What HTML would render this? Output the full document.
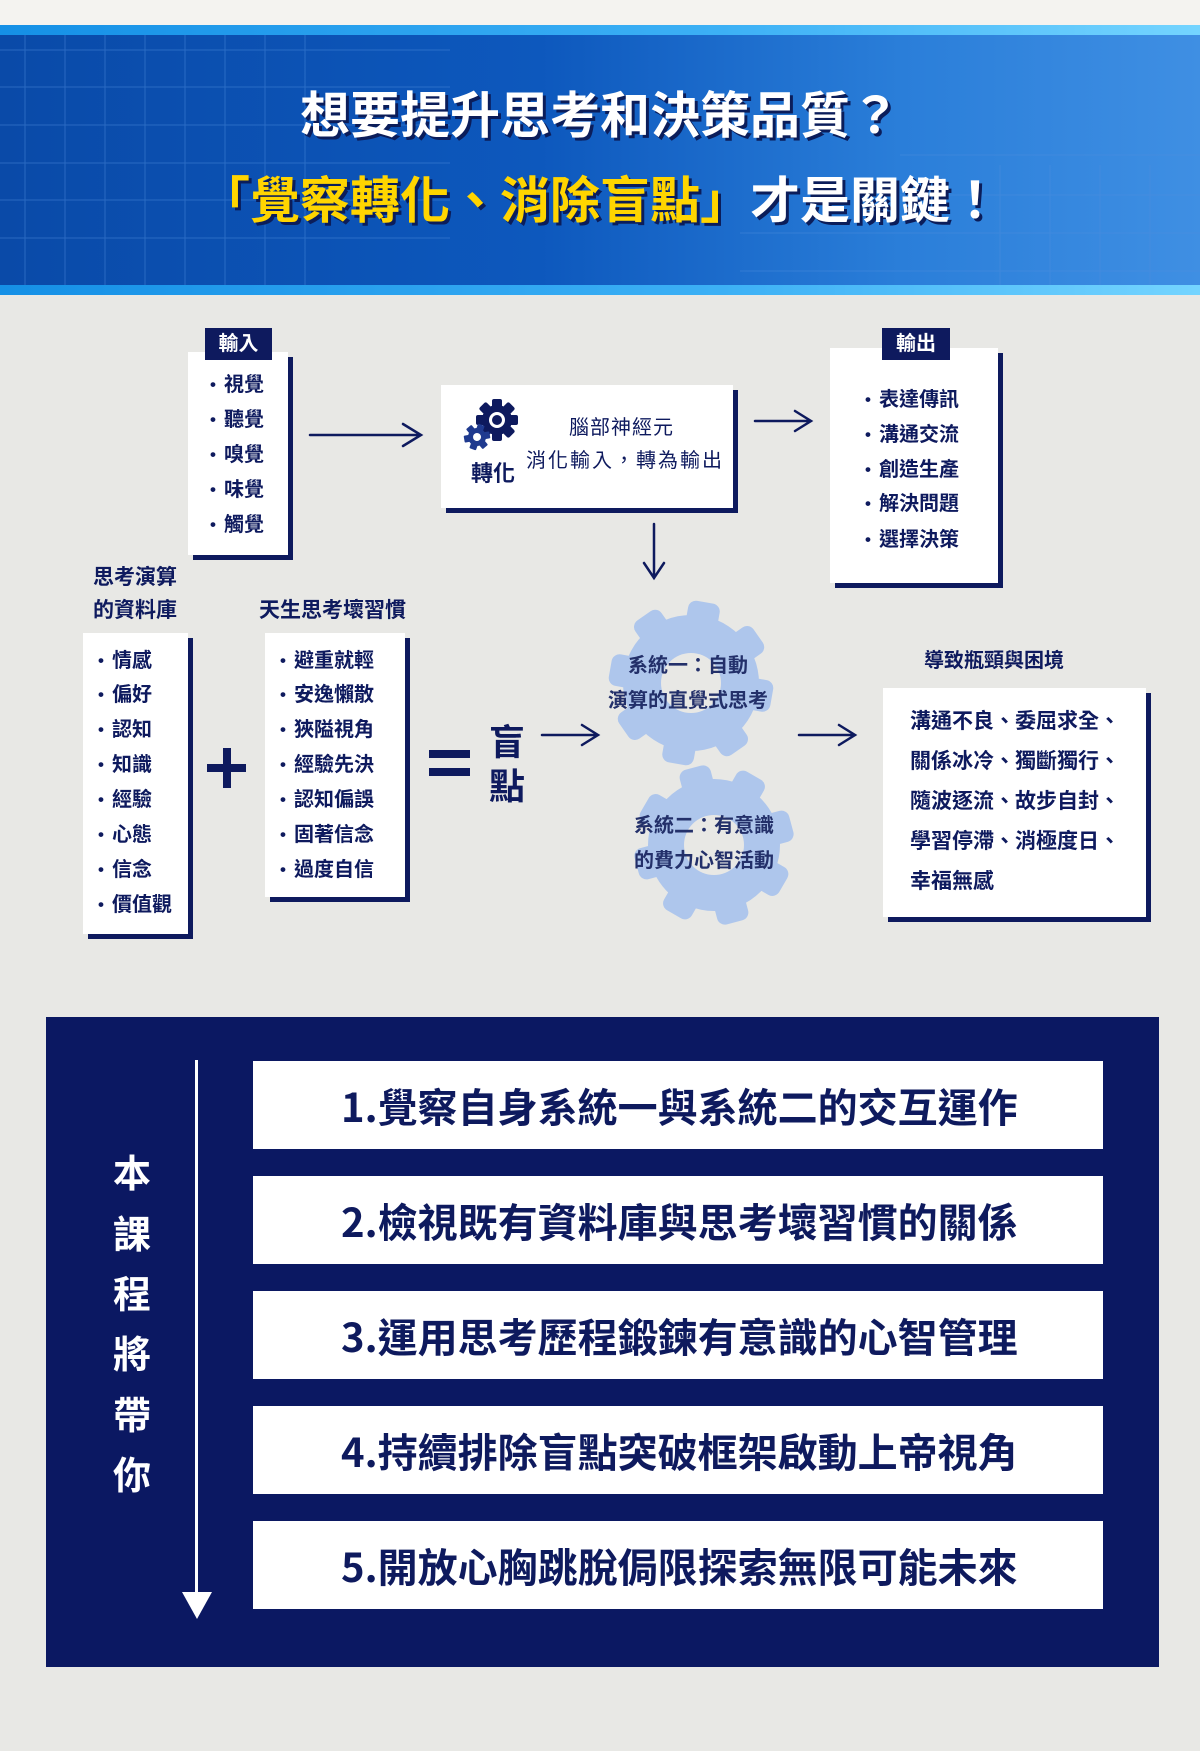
<!DOCTYPE html>
<html><head><meta charset="utf-8">
<style>
*{margin:0;padding:0;box-sizing:border-box}
body{width:1200px;height:1751px;position:relative;overflow:hidden;background:#e8e8e5;font-family:"Liberation Sans","Noto Sans CJK TC",sans-serif;color:#0e1a5e}
.a{position:absolute;white-space:nowrap}
.box{position:absolute;background:#fff;box-shadow:5px 5px 0 #0e1a5e}
.b{font-weight:700}
.tag{position:absolute;background:#0e1a5e;color:#fff;font-weight:700;font-size:20px;text-align:center;line-height:32px}
.li{position:absolute;font-weight:700;font-size:20px;line-height:24px}
.li:before{content:"•";position:absolute;left:-14px;font-size:17px}
.st{position:absolute;background:#fff;color:#0e1a5e;font-weight:700;font-size:40px;line-height:88px;height:88px;padding-left:88px;left:253px;width:850px;font-family:"Noto Sans CJK TC",sans-serif}
.vt{position:absolute;left:112px;width:40px;text-align:center;color:#fff;font-weight:700;font-size:38px;line-height:40px}
</style></head><body>
<div class="a" style="left:0;top:0;width:1200px;height:25px;background:#f4f3f0"></div>
<div class="a" style="left:0;top:25px;width:1200px;height:270px;background:linear-gradient(90deg,#0a4aa8 0%,#0d58bd 45%,#2a7ed9 75%,#3f8fe3 100%)"></div>
<div class="a" style="left:0;top:25px;width:1200px;height:10px;background:linear-gradient(90deg,#1590e6,#3cb0f5 60%,#74d4ff)"></div>
<div class="a" style="left:0;top:285px;width:1200px;height:10px;background:linear-gradient(90deg,#1590e6,#3cb0f5 60%,#74d4ff)"></div>
<svg class="a" style="left:0;top:35px" width="1200" height="250">
<g stroke="#4f8ede" stroke-width="1" opacity="0.45">
<line x1="0" y1="15" x2="450" y2="15"/><line x1="0" y1="52" x2="450" y2="52"/><line x1="0" y1="90" x2="450" y2="90"/><line x1="0" y1="128" x2="450" y2="128"/><line x1="0" y1="165" x2="450" y2="165"/><line x1="0" y1="203" x2="450" y2="203"/>
<line x1="25" y1="0" x2="25" y2="250"/><line x1="65" y1="0" x2="65" y2="250"/><line x1="105" y1="0" x2="105" y2="250"/><line x1="145" y1="0" x2="145" y2="250"/><line x1="185" y1="0" x2="185" y2="250"/><line x1="225" y1="0" x2="225" y2="250"/><line x1="265" y1="0" x2="265" y2="250"/><line x1="305" y1="0" x2="305" y2="250"/>
<line x1="740" y1="198" x2="1200" y2="198"/><line x1="740" y1="236" x2="1200" y2="236"/><line x1="900" y1="120" x2="1200" y2="120"/><line x1="900" y1="160" x2="1200" y2="160"/>
<line x1="1000" y1="130" x2="1000" y2="250"/><line x1="1050" y1="130" x2="1050" y2="250"/><line x1="1100" y1="130" x2="1100" y2="250"/><line x1="1150" y1="130" x2="1150" y2="250"/>
</g></svg>
<div class="a b" style="left:0;width:1200px;text-align:center;top:86px;font-size:50px;line-height:60px;color:#fff;text-shadow:3px 3px 0 #0b1d5a">想要提升思考和決策品質？</div>
<div class="a b" style="left:0;width:1200px;text-align:center;top:171px;font-size:50px;line-height:60px;color:#fff;text-shadow:3px 3px 0 #0b1d5a"><span style="color:#ffd500">「覺察轉化、消除盲點」</span>才是關鍵！</div>

<div class="box" style="left:188px;top:352px;width:100px;height:203px"></div>
<div class="tag" style="left:205px;top:328px;width:67px;height:32px">輸入</div>
<div class="li" style="left:224px;top:373px">視覺</div>
<div class="li" style="left:224px;top:408px">聽覺</div>
<div class="li" style="left:224px;top:443px">嗅覺</div>
<div class="li" style="left:224px;top:478px">味覺</div>
<div class="li" style="left:224px;top:513px">觸覺</div>

<svg class="a" style="left:0;top:0" width="1200" height="1000">
<g stroke="#0e1a5e" stroke-width="2.5" fill="none" stroke-linecap="round">
<path d="M310 435 H421 M403 424 L421 435 L403 446"/>
<path d="M755 421 H811 M795 411 L811 421 L795 431"/>
<path d="M654 524 V578 M644 563 L654 578 L664 563"/>
<path d="M542 735 H598 M582 725 L598 735 L582 745"/>
<path d="M799 735 H855 M839 725 L855 735 L839 745"/>
</g>
<g fill="#aec6ec">
<circle cx="691" cy="683" r="68"/>
<g transform="translate(691 683) rotate(10)">
<rect x="-16" y="-82" width="32" height="30" rx="8"/>
<rect x="-16" y="-82" width="32" height="30" rx="8" transform="rotate(45)"/>
<rect x="-16" y="-82" width="32" height="30" rx="8" transform="rotate(90)"/>
<rect x="-16" y="-82" width="32" height="30" rx="8" transform="rotate(135)"/>
<rect x="-16" y="-82" width="32" height="30" rx="8" transform="rotate(180)"/>
<rect x="-16" y="-82" width="32" height="30" rx="8" transform="rotate(225)"/>
<rect x="-16" y="-82" width="32" height="30" rx="8" transform="rotate(270)"/>
<rect x="-16" y="-82" width="32" height="30" rx="8" transform="rotate(315)"/>
</g>
<circle cx="714" cy="845" r="66"/>
<g transform="translate(714 845) rotate(30)">
<rect x="-16" y="-80" width="32" height="30" rx="8"/>
<rect x="-16" y="-80" width="32" height="30" rx="8" transform="rotate(45)"/>
<rect x="-16" y="-80" width="32" height="30" rx="8" transform="rotate(90)"/>
<rect x="-16" y="-80" width="32" height="30" rx="8" transform="rotate(135)"/>
<rect x="-16" y="-80" width="32" height="30" rx="8" transform="rotate(180)"/>
<rect x="-16" y="-80" width="32" height="30" rx="8" transform="rotate(225)"/>
<rect x="-16" y="-80" width="32" height="30" rx="8" transform="rotate(270)"/>
<rect x="-16" y="-80" width="32" height="30" rx="8" transform="rotate(315)"/>
</g>
</g>
<circle cx="691" cy="683" r="30" fill="#e8e8e5"/>
<circle cx="714" cy="845" r="30" fill="#e8e8e5"/>
</svg>

<div class="box" style="left:441px;top:385px;width:292px;height:123px"></div>
<svg class="a" style="left:450px;top:390px" width="80" height="70">
<g fill="#0e1a5e" transform="translate(47 30)">
<circle r="15"/>
<rect x="-5" y="-21" width="10" height="10" rx="2"/><rect x="-5" y="-21" width="10" height="10" rx="2" transform="rotate(45)"/><rect x="-5" y="-21" width="10" height="10" rx="2" transform="rotate(90)"/><rect x="-5" y="-21" width="10" height="10" rx="2" transform="rotate(135)"/><rect x="-5" y="-21" width="10" height="10" rx="2" transform="rotate(180)"/><rect x="-5" y="-21" width="10" height="10" rx="2" transform="rotate(225)"/><rect x="-5" y="-21" width="10" height="10" rx="2" transform="rotate(270)"/><rect x="-5" y="-21" width="10" height="10" rx="2" transform="rotate(315)"/>
<circle r="8" fill="#fff"/><circle r="5"/>
</g>
<g fill="#1f3a8f" transform="translate(27 47) rotate(20)">
<circle r="9"/>
<rect x="-3.5" y="-13" width="7" height="7" rx="1"/><rect x="-3.5" y="-13" width="7" height="7" rx="1" transform="rotate(60)"/><rect x="-3.5" y="-13" width="7" height="7" rx="1" transform="rotate(120)"/><rect x="-3.5" y="-13" width="7" height="7" rx="1" transform="rotate(180)"/><rect x="-3.5" y="-13" width="7" height="7" rx="1" transform="rotate(240)"/><rect x="-3.5" y="-13" width="7" height="7" rx="1" transform="rotate(300)"/>
<circle r="4" fill="#fff"/>
</g></svg>
<div class="a b" style="left:471px;top:460px;font-size:22px;line-height:28px">轉化</div>
<div class="a" style="left:569px;top:414px;font-size:20px;line-height:28px;letter-spacing:1px">腦部神經元</div>
<div class="a" style="left:526px;top:447px;font-size:20px;line-height:28px;letter-spacing:2px">消化輸入，轉為輸出</div>

<div class="box" style="left:830px;top:348px;width:168px;height:235px"></div>
<div class="tag" style="left:882px;top:328px;width:68px;height:32px">輸出</div>
<div class="li" style="left:879px;top:388px">表達傳訊</div>
<div class="li" style="left:879px;top:423px">溝通交流</div>
<div class="li" style="left:879px;top:458px">創造生產</div>
<div class="li" style="left:879px;top:492px">解決問題</div>
<div class="li" style="left:879px;top:528px">選擇決策</div>

<div class="a b" style="left:93px;top:564px;font-size:21px;line-height:28px">思考演算</div>
<div class="a b" style="left:93px;top:597px;font-size:21px;line-height:28px">的資料庫</div>
<div class="a b" style="left:259px;top:597px;font-size:21px;line-height:28px">天生思考壞習慣</div>
<div class="box" style="left:83px;top:633px;width:105px;height:301px"></div>
<div class="li" style="left:112px;top:649px">情感</div>
<div class="li" style="left:112px;top:683px">偏好</div>
<div class="li" style="left:112px;top:718px">認知</div>
<div class="li" style="left:112px;top:753px">知識</div>
<div class="li" style="left:112px;top:788px">經驗</div>
<div class="li" style="left:112px;top:823px">心態</div>
<div class="li" style="left:112px;top:858px">信念</div>
<div class="li" style="left:112px;top:893px">價值觀</div>
<div class="a" style="left:207px;top:764px;width:39px;height:8px;background:#0e1a5e"></div>
<div class="a" style="left:223px;top:748px;width:8px;height:40px;background:#0e1a5e"></div>
<div class="box" style="left:265px;top:633px;width:140px;height:264px"></div>
<div class="li" style="left:294px;top:649px">避重就輕</div>
<div class="li" style="left:294px;top:683px">安逸懶散</div>
<div class="li" style="left:294px;top:718px">狹隘視角</div>
<div class="li" style="left:294px;top:753px">經驗先決</div>
<div class="li" style="left:294px;top:788px">認知偏誤</div>
<div class="li" style="left:294px;top:823px">固著信念</div>
<div class="li" style="left:294px;top:858px">過度自信</div>
<div class="a" style="left:429px;top:750px;width:41px;height:8px;background:#0e1a5e"></div>
<div class="a" style="left:429px;top:768px;width:41px;height:8px;background:#0e1a5e"></div>
<div class="a b" style="left:489px;top:722px;font-size:36px;line-height:42px">盲</div>
<div class="a b" style="left:489px;top:766px;font-size:36px;line-height:42px">點</div>

<div class="a b" style="left:602px;top:652px;width:172px;text-align:center;font-size:20px;line-height:28px;color:#23306a">系統一：自動</div>
<div class="a b" style="left:599px;top:687px;width:178px;text-align:center;font-size:20px;line-height:28px;color:#23306a">演算的直覺式思考</div>
<div class="a b" style="left:634px;top:812px;font-size:20px;line-height:28px;color:#23306a">系統二：有意識</div>
<div class="a b" style="left:634px;top:847px;font-size:20px;line-height:28px;color:#23306a">的費力心智活動</div>

<div class="a b" style="left:924px;top:647px;font-size:20px;line-height:28px">導致瓶頸與困境</div>
<div class="box" style="left:883px;top:688px;width:263px;height:229px"></div>
<div class="a b" style="left:910px;top:702px;font-size:21px;line-height:40px">溝通不良、委屈求全、<br>關係冰冷、獨斷獨行、<br>隨波逐流、故步自封、<br>學習停滯、消極度日、<br>幸福無感</div>

<div class="a" style="left:46px;top:1017px;width:1113px;height:650px;background:#0b1862"></div>
<div class="a" style="left:195px;top:1060px;width:3px;height:540px;background:#fff"></div>
<svg class="a" style="left:182px;top:1592px" width="30" height="30"><polygon points="0,0 30,0 15,27" fill="#fff"/></svg>
<div class="vt" style="top:1155px">本</div>
<div class="vt" style="top:1216px">課</div>
<div class="vt" style="top:1276px">程</div>
<div class="vt" style="top:1336px">將</div>
<div class="vt" style="top:1397px">帶</div>
<div class="vt" style="top:1457px">你</div>
<div class="st" style="top:1061px">1.覺察自身系統一與系統二的交互運作</div>
<div class="st" style="top:1176px">2.檢視既有資料庫與思考壞習慣的關係</div>
<div class="st" style="top:1291px">3.運用思考歷程鍛鍊有意識的心智管理</div>
<div class="st" style="top:1406px">4.持續排除盲點突破框架啟動上帝視角</div>
<div class="st" style="top:1521px">5.開放心胸跳脫侷限探索無限可能未來</div>
</body></html>
